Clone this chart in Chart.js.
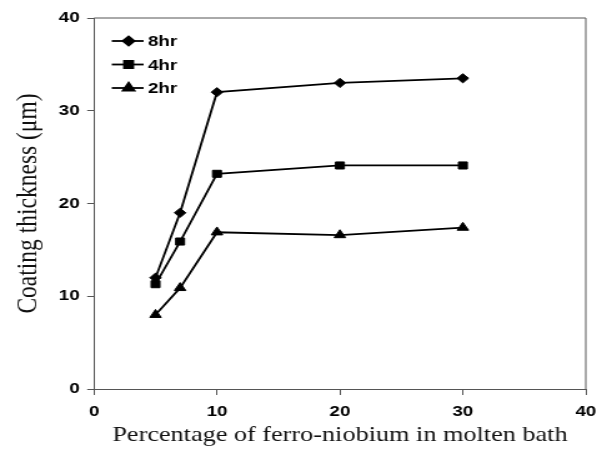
<!DOCTYPE html>
<html>
<head>
<meta charset="utf-8">
<script src="https://cdn.jsdelivr.net/npm/chart.js@4/dist/chart.umd.min.js"></script>
<style>
  html, body { margin: 0; padding: 0; background: #fff; }
  /* the chart is drawn narrow and widened by css, like the printed figure */
  #thickness { display: block; }
</style>
</head>
<body>
<canvas id="thickness" width="486" height="450" style="width:607px;height:450px"></canvas>
<script>
// ferro-niobium content (%) in the bath
const percent = [5, 7, 10, 20, 30]
// coating thickness (um) per dipping time
const hr8 = [12, 19, 32, 33, 33.5]
const hr4 = [11.3, 15.9, 23.2, 24.1, 24.1]
const hr2 = [8, 10.9, 16.9, 16.6, 17.4]
const seriesNames = ['8hr', '4hr', '2hr']
const axisTicks = [0, 10, 20, 30, 40]

const toPoints = vals => vals.map((v, i) => ({ x: percent[i], y: v }))

const tickFont = { family: 'Liberation Sans, Arial', size: 15, weight: 'bold' }
const axisColor = '#555'

// legend drawn inside the plot: short line with the marker on it
const insideLegend = {
  id: 'insideLegend',
  afterDatasetsDraw(chart) {
    const ctx = chart.ctx
    ctx.save()
    chart.data.datasets.forEach((ds, i) => {
      const y = 41 + i * 23.5
      ctx.strokeStyle = '#000'
      ctx.lineWidth = 1.8
      ctx.beginPath()
      ctx.moveTo(89.5, y)
      ctx.lineTo(115, y)
      ctx.stroke()
      ctx.fillStyle = '#000'
      Chart.helpers.drawPoint(ctx, { pointStyle: ds.pointStyle, radius: ds.pointRadius, rotation: 0, borderWidth: 1 }, 103, y)
      ctx.fillStyle = '#000'
      ctx.font = 'bold 15px "Liberation Sans", Arial'
      ctx.textBaseline = 'middle'
      ctx.fillText(seriesNames[i], 118.5, y + 1)
    })
    ctx.restore()
  },
}

// top and right edges of the plot box
const boxFrame = {
  id: 'boxFrame',
  afterDraw(chart) {
    const { left, right, top, bottom } = chart.chartArea
    const ctx = chart.ctx
    ctx.save()
    ctx.strokeStyle = axisColor
    ctx.lineWidth = 1
    ctx.beginPath()
    ctx.moveTo(left, top)
    ctx.lineTo(right, top)
    ctx.lineTo(right, bottom)
    ctx.stroke()
    ctx.restore()
  },
}

const mk = (label, vals, style, r) => ({
  label,
  data: toPoints(vals),
  borderColor: '#000',
  backgroundColor: '#000',
  borderWidth: 1.8,
  pointStyle: style,
  pointRadius: r,
  pointHoverRadius: r,
  pointBorderWidth: 1,
  tension: 0,
})

new Chart(document.getElementById('thickness'), {
  type: 'line',
  data: {
    datasets: [
      mk(seriesNames[0], hr8, 'rectRot', 4.6),
      mk(seriesNames[1], hr4, 'rect', 5),
      mk(seriesNames[2], hr2, 'triangle', 5.3),
    ],
  },
  options: {
    responsive: false,
    devicePixelRatio: 1,
    animation: false,
    layout: { padding: { top: 18, right: 17, left: 0, bottom: 0 } },
    plugins: {
      legend: { display: false },
      tooltip: { enabled: false },
    },
    scales: {
      x: {
        type: 'linear',
        min: 0,
        max: 40,
        afterBuildTicks: axis => { axis.ticks = axisTicks.map(v => ({ value: v })) },
        afterFit: axis => { axis.height = 61 },
        border: { color: axisColor, width: 1 },
        grid: { drawOnChartArea: false, drawTicks: true, tickLength: 6, color: axisColor },
        ticks: { color: '#000', font: tickFont, padding: 8, maxRotation: 0 },
        title: {
          display: true,
          text: 'Percentage of ferro-niobium in molten bath',
          color: '#111',
          font: { family: 'Liberation Serif, Times New Roman', size: 21 },
          padding: { top: 0, bottom: 2 },
        },
      },
      y: {
        min: 0,
        max: 40,
        afterBuildTicks: axis => { axis.ticks = axisTicks.map(v => ({ value: v })) },
        afterFit: axis => { axis.width = 75.3 },
        border: { color: axisColor, width: 1 },
        grid: { drawOnChartArea: false, drawTicks: true, tickLength: 5.5, color: axisColor },
        ticks: { color: '#000', font: tickFont, padding: 6 },
        title: {
          display: true,
          text: 'Coating thickness (μm)',
          color: '#111',
          font: { family: 'Liberation Serif, Times New Roman', size: 23.5 },
          padding: { top: 9, bottom: 0 },
        },
      },
    },
  },
  plugins: [insideLegend, boxFrame],
})
</script>
</body>
</html>
